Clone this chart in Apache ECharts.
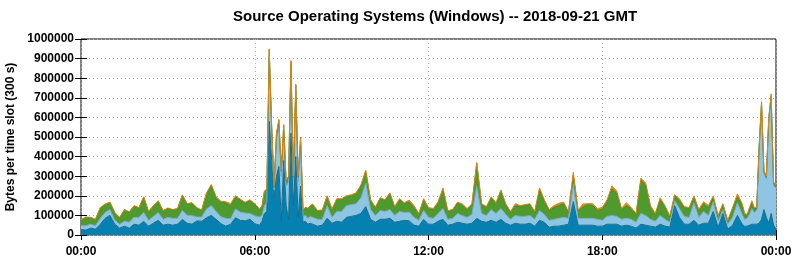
<!DOCTYPE html>
<html>
<head>
    <meta charset="utf-8">
    <title>Source Operating Systems (Windows)</title>
    <script src="https://cdn.jsdelivr.net/npm/echarts@6/dist/echarts.min.js"></script>
    <style>
        html, body { margin: 0; padding: 0; background: #fff; }
    </style>
</head>
<body>
    <div id="main" style="width: 794px;height:260px;"></div>
    <script type="text/javascript">
        // sample times, minutes after 00:00 GMT (finer steps around the spikes)
        var times = [
            0, 10, 20, 30, 40, 50, 60, 70, 80, 90, 100, 110, 120, 130, 140, 150, 160, 170, 180, 190,
            200, 210, 220, 230, 240, 250, 260, 270, 280, 290, 300, 310, 320, 330, 340, 350, 360, 370,
            375, 380, 385, 390, 395, 400, 405, 410, 415, 420, 425, 430, 435, 440, 445, 450, 455, 460, 465, 470, 475,
            480, 490, 500, 510, 520, 530, 540, 550, 560, 570, 580, 590, 600, 610, 620, 630, 640, 650, 660, 670,
            680, 690, 700, 710, 720, 730, 740, 750, 760, 770, 780, 790, 800, 810, 820, 830, 840, 850, 860, 870,
            880, 890, 900, 910, 920, 930, 940, 950, 960, 970, 980, 990, 1000, 1010, 1020, 1030, 1040, 1050, 1060,
            1070, 1080, 1090, 1100, 1110, 1120, 1130, 1140, 1150, 1160, 1170, 1180, 1190, 1200, 1210, 1220, 1230,
            1240, 1250, 1260, 1270, 1280, 1290, 1300, 1310, 1320, 1330, 1340, 1350, 1360, 1370,
            1375, 1380, 1385, 1390, 1395, 1400, 1405, 1410, 1415, 1420, 1425, 1430, 1435, 1440
        ];

        // layer values in thousands of bytes per slot, bottom layer first
        var darkBlue = [
            28, 25, 35, 30, 55, 85, 100, 55, 35, 45, 35, 55, 50, 70, 45, 60, 75, 50, 55, 50, 55, 80, 60, 55, 72, 70, 88, 100, 80, 58, 45, 55, 88, 75, 72, 80, 58, 50,
            70, 110, 120, 580, 380, 190, 300, 350, 70, 380, 150, 80, 520, 150, 400, 90, 250, 65, 70, 55, 60,
            55, 45, 50, 85, 60, 70, 65, 90, 95, 100, 110, 145, 80, 65, 80, 80, 85, 65, 70, 75, 72, 50, 45, 80, 55,
            55, 70, 80, 50, 55, 65, 60, 55, 60, 85, 70, 65, 75, 65, 80, 60, 50, 60, 55, 55, 60, 45, 75, 65,
            40, 45, 45, 50, 55, 170, 50, 50, 50, 50, 45, 45, 55, 55, 55, 45, 50, 45, 35, 55, 50, 45, 40, 55, 45,
            40, 150, 90, 55, 55, 75, 50, 60, 60, 120, 40, 110, 30, 50, 100, 55,
            45, 45, 50, 55, 55, 55, 60, 80, 130, 90, 60, 110, 50, 30
        ];
        var lightBlue = [
            20, 22, 20, 18, 30, 30, 30, 20, 20, 25, 30, 35, 40, 45, 30, 35, 40, 30, 35, 35, 30, 45, 40, 45, 20, 22, 45, 50, 40, 35, 40, 28, 45, 42, 40, 30, 40, 42,
            30, 40, 45, 330, 160, 40, 190, 200, 230, 150, 100, 190, 340, 120, 340, 180, 220, 30, 30, 30, 35,
            35, 35, 30, 65, 30, 50, 55, 60, 60, 60, 80, 120, 50, 35, 45, 40, 45, 35, 50, 40, 45, 40, 30, 45, 35,
            30, 40, 55, 30, 30, 45, 40, 35, 45, 165, 40, 35, 55, 45, 55, 45, 30, 40, 40, 40, 40, 35, 50, 40,
            35, 35, 40, 40, 30, 90, 35, 35, 35, 35, 35, 30, 40, 45, 40, 35, 35, 35, 30, 55, 50, 35, 30, 45, 35,
            25, 25, 45, 40, 35, 90, 40, 60, 40, 50, 30, 20, 25, 40, 65, 50,
            35, 40, 55, 80, 60, 70, 375, 580, 185, 195, 520, 570, 200, 210
        ];
        var green = [
            28, 43, 33, 30, 53, 41, 36, 38, 33, 58, 51, 58, 48, 78, 43, 53, 58, 43, 46, 43, 48, 78, 58, 63, 45, 33, 79, 103, 70, 74, 80, 67, 62, 61, 50, 65, 57, 36,
            45, 70, 65, 35, 15, 15, 25, 35, 25, 30, 25, 25, 25, 25, 25, 25, 25, 30, 40, 50, 53,
            65, 42, 45, 47, 40, 62, 62, 47, 47, 52, 62, 60, 47, 39, 62, 57, 80, 42, 60, 45, 51, 50, 30, 55, 45,
            45, 55, 95, 40, 40, 53, 53, 40, 50, 115, 45, 40, 60, 50, 90, 50, 35, 50, 50, 55, 55, 35, 105, 65,
            50, 60, 65, 70, 30, 45, 38, 58, 70, 65, 45, 55, 75, 135, 120, 50, 65, 55, 40, 170, 155, 60, 35, 80, 60,
            28, 25, 40, 45, 45, 30, 35, 40, 40, 20, 25, 25, 15, 45, 30, 45,
            25, 15, 25, 30, 20, 10, 10, 15, 10, 10, 15, 30, 15, 5
        ];
        var orange = [
            2, 2, 2, 2, 2, 2, 2, 2, 2, 2, 2, 2, 2, 2, 2, 2, 2, 2, 2, 2, 2, 2, 2, 2, 3, 3, 3, 5, 5, 5, 5, 10, 5, 5, 5, 5, 5, 5,
            3, 5, 5, 5, 5, 5, 5, 5, 5, 5, 5, 5, 5, 5, 5, 5, 5, 3, 2, 2, 2,
            3, 3, 3, 3, 3, 3, 3, 3, 3, 3, 3, 5, 3, 3, 3, 3, 5, 3, 5, 5, 10, 10, 5, 5, 5,
            5, 5, 10, 5, 5, 5, 5, 5, 5, 5, 5, 5, 5, 5, 5, 5, 5, 10, 5, 5, 5, 5, 10, 10,
            5, 10, 12, 8, 5, 15, 5, 15, 5, 10, 10, 10, 10, 15, 10, 5, 15, 5, 5, 10, 10, 10, 5, 10, 10,
            5, 5, 10, 5, 5, 5, 5, 10, 10, 10, 5, 5, 5, 5, 15, 10,
            5, 5, 10, 10, 5, 5, 5, 5, 5, 5, 5, 10, 5, 5
        ];

        var layers = [
            { name: 'Windows A', values: darkBlue, fill: '#0581b1', edge: '#1a6a8c' },
            { name: 'Windows B', values: lightBlue, fill: '#8ec5e2', edge: '#78a8c0' },
            { name: 'Windows C', values: green, fill: '#4f9a2c', edge: '#45862a' },
            { name: 'Windows D', values: orange, fill: '#e58c14', edge: '#d9861c' }
        ];

        var font = '"Liberation Sans", Arial, sans-serif';

        function hhmm(v) {
            var m = v % 1440;
            var h = Math.floor(m / 60);
            var mm = m % 60;
            return (h < 10 ? '0' : '') + h + ':' + (mm < 10 ? '0' : '') + mm;
        }

        // value comes first in each pair so the stack is taken on the y value
        var series = layers.map(function (layer) {
            if (layer.values.length !== times.length) {
                console.error(layer.name + ' has ' + layer.values.length + ' values, expected ' + times.length);
            }
            return {
                name: layer.name,
                type: 'line',
                stack: 'total',
                symbol: 'none',
                smooth: false,
                animation: false,
                encode: { x: 1, y: 0 },
                lineStyle: { color: layer.edge, width: 1 },
                itemStyle: { color: layer.fill },
                areaStyle: { color: layer.fill, opacity: 1 },
                data: times.map(function (t, i) {
                    return [layer.values[i] * 1000, t];
                })
            };
        });

        var xTicks = {
            type: 'value', min: 0, max: 1440, interval: 360
        };
        var yTicks = {
            type: 'value', min: 0, max: 1000000, interval: 100000
        };
        var tickLabel = { fontFamily: font, fontSize: 12, fontWeight: 'bold', color: '#000' };
        var dotted = { color: '#b0b0b0', type: [1, 3], width: 1 };

        var myChart = echarts.init(document.getElementById('main'));
        myChart.setOption({
            backgroundColor: '#fff',
            animation: false,
            title: {
                text: 'Source Operating Systems (Windows) -- 2018-09-21 GMT',
                left: 228,
                top: 4,
                textStyle: { fontFamily: font, fontSize: 15, fontWeight: 'bold', color: '#000' }
            },
            grid: {
                left: 81, right: 18, top: 39, bottom: 25,
                outerBoundsMode: 'none',
                containLabel: false,
                show: true, borderColor: '#000', borderWidth: 1
            },
            xAxis: [
                Object.assign({}, xTicks, {
                    position: 'bottom',
                    axisLine: { show: false },
                    axisTick: { show: true, inside: true, length: 5, lineStyle: { color: '#000' } },
                    axisLabel: Object.assign({ formatter: hhmm, margin: 11 }, tickLabel),
                    splitLine: { show: true, lineStyle: dotted }
                }),
                Object.assign({}, xTicks, {
                    position: 'top',
                    axisLine: { show: false },
                    axisTick: { show: true, inside: true, length: 5, lineStyle: { color: '#000' } },
                    axisLabel: { show: false },
                    splitLine: { show: false }
                })
            ],
            yAxis: [
                Object.assign({}, yTicks, {
                    position: 'left',
                    name: 'Bytes per time slot (300 s)',
                    nameLocation: 'middle',
                    nameGap: 52,
                    nameTextStyle: { fontFamily: font, fontSize: 12, fontWeight: 'bold', color: '#000' },
                    axisLine: { show: false },
                    axisTick: { show: true, inside: true, length: 6, lineStyle: { color: '#000' } },
                    axisLabel: Object.assign({ margin: 7, formatter: function (v) { return String(v); } }, tickLabel),
                    splitLine: { show: true, lineStyle: dotted }
                }),
                Object.assign({}, yTicks, {
                    position: 'right',
                    axisLine: { show: false },
                    axisTick: { show: true, inside: true, length: 6, lineStyle: { color: '#000' } },
                    axisLabel: { show: false },
                    splitLine: { show: false }
                })
            ],
            series: series
        });
    </script>
</body>
</html>
